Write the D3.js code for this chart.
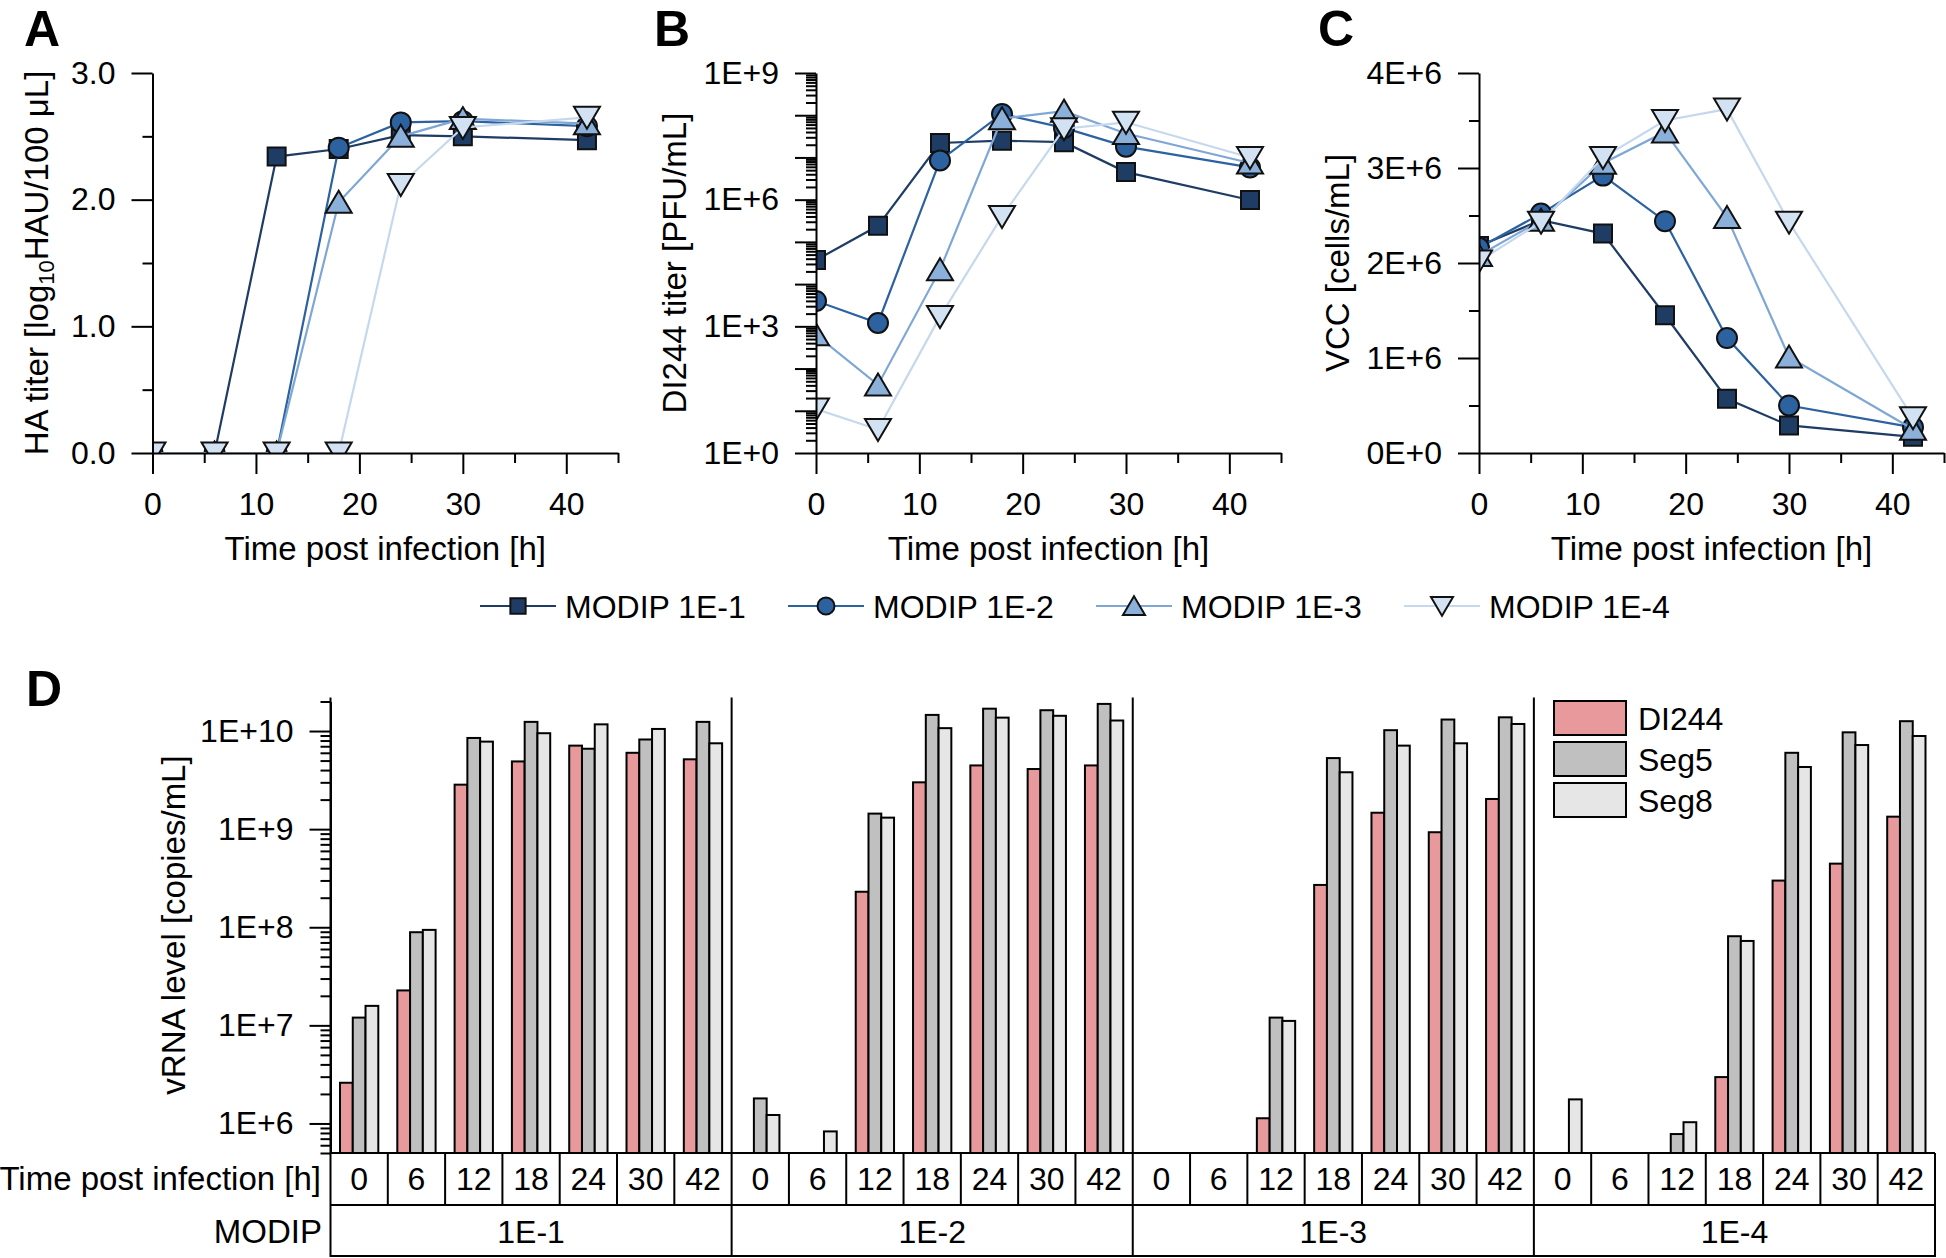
<!DOCTYPE html>
<html><head><meta charset="utf-8">
<script src="https://cdn.jsdelivr.net/npm/d3@7"></script>
<style>
body{margin:0;background:#fff}
svg{display:block}
text{font-family:"Liberation Sans",Arial,Helvetica,sans-serif;fill:#000}
</style>
</head><body>
<svg id="c" width="1946" height="1258"></svg>
<script>
// ---------------- DATA ----------------
const times = [0, 6, 12, 18, 24, 30, 42];
const seriesLabels = ["MODIP 1E-1", "MODIP 1E-2", "MODIP 1E-3", "MODIP 1E-4"];

// Panel A: HA titer [log10 HAU/100 µL]
const haTiter1E1 = [0, 0, 2.34, 2.40, 2.51, 2.50, 2.47];
const haTiter1E2 = [0, 0, 0, 2.41, 2.61, 2.62, 2.58];
const haTiter1E3 = [0, 0, 0, 1.98, 2.50, 2.64, 2.60];
const haTiter1E4 = [0, 0, 0, 0, 2.12, 2.57, 2.65];

// Panel B: DI244 titer [PFU/mL]
const di244Titer1E1 = [3.7e4, 2.4e5, 2.2e7, 2.5e7, 2.3e7, 4.5e6, 9.8e5];
const di244Titer1E2 = [4.0e3, 1.2e3, 8.5e6, 1.07e8, 5.0e7, 1.8e7, 5.8e6];
const di244Titer1E3 = [630, 41, 2.2e4, 8.3e7, 1.25e8, 3.7e7, 7.4e6];
const di244Titer1E4 = [11, 3.6, 1.7e3, 4.0e5, 4.8e7, 6.8e7, 1.0e7];

// Panel C: VCC [cells/mL]
const vcc1E1 = [2.18e6, 2.45e6, 2.31e6, 1.45e6, 0.57e6, 0.29e6, 0.17e6];
const vcc1E2 = [2.16e6, 2.52e6, 2.92e6, 2.44e6, 1.21e6, 0.50e6, 0.27e6];
const vcc1E3 = [2.08e6, 2.45e6, 3.05e6, 3.38e6, 2.48e6, 1.01e6, 0.25e6];
const vcc1E4 = [2.02e6, 2.43e6, 3.11e6, 3.50e6, 3.62e6, 2.43e6, 0.37e6];

// Panel D: vRNA level [copies/mL]
const modipGroups = ["1E-1", "1E-2", "1E-3", "1E-4"];
const rnaSegments = ["DI244", "Seg5", "Seg8"];
const timeLabels = ["0", "6", "12", "18", "24", "30", "42"];
const di244_1E1 = [2.6e6, 2.27e7, 2.84e9, 4.9e9, 7.1e9, 6.0e9, 5.15e9];
const seg5_1E1  = [1.2e7, 8.9e7, 8.5e9, 1.24e10, 6.6e9, 8.2e9, 1.24e10];
const seg8_1E1  = [1.58e7, 9.4e7, 7.8e9, 9.5e9, 1.17e10, 1.05e10, 7.5e9];
const di244_1E2 = [null, null, 2.3e8, 3.0e9, 4.46e9, 4.1e9, 4.46e9];
const seg5_1E2  = [1.8e6, null, 1.44e9, 1.46e10, 1.69e10, 1.63e10, 1.89e10];
const seg8_1E2  = [1.22e6, 8.3e5, 1.31e9, 1.07e10, 1.37e10, 1.43e10, 1.28e10];
const di244_1E3 = [null, null, 1.13e6, 2.7e8, 1.47e9, 9.3e8, 2.03e9];
const seg5_1E3  = [null, null, 1.2e7, 5.3e9, 1.02e10, 1.31e10, 1.38e10];
const seg8_1E3  = [null, null, 1.11e7, 3.8e9, 7.1e9, 7.5e9, 1.18e10];
const di244_1E4 = [null, null, null, 2.97e6, 2.99e8, 4.45e8, 1.34e9];
const seg5_1E4  = [null, null, 7.8e5, 8.1e7, 6.0e9, 9.7e9, 1.26e10];
const seg8_1E4  = [1.76e6, null, 1.03e6, 7.25e7, 4.3e9, 7.2e9, 8.9e9];

// ---------------- STYLE ----------------
const fillColors = ["#1f3c64", "#2d62a0", "#8bb0d9", "#d3e2f3"];
const lineColors = ["#1f3c64", "#2d62a0", "#7ea7d6", "#c5d8ee"];
const shapes = ["square", "circle", "triUp", "triDown"];
const barColors = ["#e8999c", "#c0c0c0", "#e6e6e6"];
const FS = 32, TFS = 33;

const svg = d3.select("#c");

function markerPath(shape) {
  switch (shape) {
    case "square": return "M-9,-9H9V9H-9Z";
    case "circle": return "M10,0A10,10 0 1,1 -10,0A10,10 0 1,1 10,0Z";
    case "triUp": return "M0,-11.5L13,10.5L-13,10.5Z";
    case "triDown": return "M0,11.5L13,-10.5L-13,-10.5Z";
  }
}

function styleAxis(g) {
  g.attr("font-family", null).attr("font-size", null);
  g.selectAll(".domain").attr("stroke", "#000").attr("stroke-width", 2);
  g.selectAll(".tick line").attr("stroke", "#000").attr("stroke-width", 2);
  g.selectAll(".tick text").attr("font-size", FS).attr("fill", "#000");
}

function letter(t, x, y) {
  svg.append("text").attr("x", x).attr("y", y).attr("font-size", 50)
    .attr("font-weight", "bold").text(t);
}

// generic line panel
function linePanel(opts) {
  const { id, x, y, data, majorY, minorY, fmtY, majorYLabelled } = opts;
  const g = svg.append("g");
  const clipId = "clip" + id;
  svg.append("clipPath").attr("id", clipId).append("rect")
    .attr("x", x.range()[0]).attr("y", y.range()[1])
    .attr("width", x.range()[1] - x.range()[0])
    .attr("height", y.range()[0] - y.range()[1]);

  // series
  const plot = g.append("g").attr("clip-path", `url(#${clipId})`);
  data.forEach((vals, i) => {
    const pts = times.map((t, j) => [t, vals[j]]);
    plot.append("path")
      .attr("d", d3.line().x(d => x(d[0])).y(d => y(d[1]))(pts))
      .attr("fill", "none").attr("stroke", lineColors[i]).attr("stroke-width", 2.2);
    plot.selectAll(null).data(pts).enter().append("path")
      .attr("transform", d => `translate(${x(d[0])},${y(d[1])})`)
      .attr("d", markerPath(shapes[i]))
      .attr("fill", fillColors[i]).attr("stroke", "#111").attr("stroke-width", 2);
  });

  // axes
  const y0 = y.range()[0], x0 = x.range()[0];
  g.append("g").attr("transform", `translate(0,${y0})`)
    .call(d3.axisBottom(x).tickValues([5, 15, 25, 35, 45]).tickSize(10).tickFormat(""))
    .call(styleAxis).select(".domain").remove();
  g.append("g").attr("transform", `translate(0,${y0})`)
    .call(d3.axisBottom(x).tickValues([0, 10, 20, 30, 40]).tickSize(21).tickSizeOuter(0).tickPadding(18))
    .call(styleAxis);
  g.append("g").attr("transform", `translate(${x0},0)`)
    .call(d3.axisLeft(y).tickValues(minorY).tickSize(10).tickFormat(""))
    .call(styleAxis).select(".domain").remove();
  g.append("g").attr("transform", `translate(${x0},0)`)
    .call(d3.axisLeft(y).tickValues(majorY).tickSize(21).tickSizeOuter(0).tickPadding(16)
      .tickFormat(d => (majorYLabelled ? majorYLabelled(d) : true) ? fmtY(d) : ""))
    .call(styleAxis);

  // x title
  svg.append("text").attr("x", (x.range()[0] + x.range()[1]) / 2).attr("y", 560)
    .attr("text-anchor", "middle").attr("font-size", TFS).text("Time post infection [h]");
  return g;
}

// ---------------- PANEL A ----------------
const xA = d3.scaleLinear().domain([0, 45]).range([152.5, 618]);
const yA = d3.scaleLinear().domain([0, 3]).range([453, 73]);
linePanel({
  id: "A", x: xA, y: yA,
  data: [haTiter1E1, haTiter1E2, haTiter1E3, haTiter1E4],
  majorY: [0, 1, 2, 3], minorY: [0.5, 1.5, 2.5],
  fmtY: d3.format(".1f")
});
letter("A", 24, 46);
{
  const t = svg.append("text").attr("transform", "translate(48,263) rotate(-90)")
    .attr("text-anchor", "middle").attr("font-size", TFS);
  t.append("tspan").text("HA titer [log");
  t.append("tspan").attr("font-size", 22).attr("dy", 6).text("10");
  t.append("tspan").attr("dy", -6).text("HAU/100 μL]");
}

// ---------------- PANEL B ----------------
const xB = d3.scaleLinear().domain([0, 45]).range([816, 1281]);
const yB = d3.scaleLog().domain([1, 1e9]).range([453, 73]);
const minorB = [];
for (let e = 0; e < 9; e++) for (let k = 2; k <= 9; k++) minorB.push(k * Math.pow(10, e));
linePanel({
  id: "B", x: xB, y: yB,
  data: [di244Titer1E1, di244Titer1E2, di244Titer1E3, di244Titer1E4],
  majorY: d3.range(0, 10).map(e => Math.pow(10, e)), minorY: minorB,
  fmtY: d => "1E+" + Math.round(Math.log10(d)),
  majorYLabelled: d => Math.round(Math.log10(d)) % 3 === 0
});
letter("B", 654, 46);
svg.append("text").attr("transform", "translate(686,263) rotate(-90)")
  .attr("text-anchor", "middle").attr("font-size", TFS).text("DI244 titer [PFU/mL]");

// ---------------- PANEL C ----------------
const xC = d3.scaleLinear().domain([0, 45]).range([1479, 1944]);
const yC = d3.scaleLinear().domain([0, 4e6]).range([453, 73]);
linePanel({
  id: "C", x: xC, y: yC,
  data: [vcc1E1, vcc1E2, vcc1E3, vcc1E4],
  majorY: [0, 1e6, 2e6, 3e6, 4e6], minorY: [0.5e6, 1.5e6, 2.5e6, 3.5e6],
  fmtY: d => (d / 1e6) + "E+" + (d === 0 ? 0 : 6)
});
letter("C", 1318, 46);
svg.append("text").attr("transform", "translate(1349,263) rotate(-90)")
  .attr("text-anchor", "middle").attr("font-size", TFS).text("VCC [cells/mL]");

// ---------------- LEGEND (A–C) ----------------
const legendX = d3.scalePoint().domain(seriesLabels).range([518, 1442]);
seriesLabels.forEach((lab, i) => {
  const cx = legendX(lab), cy = 606;
  svg.append("line").attr("x1", cx - 38).attr("x2", cx + 38).attr("y1", cy).attr("y2", cy)
    .attr("stroke", lineColors[i]).attr("stroke-width", 2.2);
  svg.append("path").attr("transform", `translate(${cx},${cy}) scale(0.85)`).attr("d", markerPath(shapes[i]))
    .attr("fill", fillColors[i]).attr("stroke", "#111").attr("stroke-width", 2.3);
  svg.append("text").attr("x", cx + 47).attr("y", cy + 11.5).attr("font-size", FS).text(lab);
});

// ---------------- PANEL D ----------------
letter("D", 26, 706);
const dTop = 701.5, dBottom = 1153, tableRow = 52;
const yD = d3.scaleLog().domain([5e5, 2e10]).range([dBottom, dTop]);
const xGroup = d3.scaleBand().domain(modipGroups).range([330.5, 1935]);
const xTime = d3.scaleBand().domain(timeLabels).range([0, xGroup.bandwidth()]);
const xSeg = d3.scaleBand().domain(rnaSegments).range([9.5, xTime.bandwidth() - 9.5]);

const barData = {
  "1E-1": [di244_1E1, seg5_1E1, seg8_1E1],
  "1E-2": [di244_1E2, seg5_1E2, seg8_1E2],
  "1E-3": [di244_1E3, seg5_1E3, seg8_1E3],
  "1E-4": [di244_1E4, seg5_1E4, seg8_1E4]
};
const bars = [];
modipGroups.forEach(gname => {
  barData[gname].forEach((arr, si) => {
    arr.forEach((v, ti) => {
      if (v != null) bars.push({ g: gname, s: rnaSegments[si], si, t: timeLabels[ti], v });
    });
  });
});
svg.append("g").selectAll("rect").data(bars).enter().append("rect")
  .attr("x", d => xGroup(d.g) + xTime(d.t) + xSeg(d.s))
  .attr("width", xSeg.bandwidth())
  .attr("y", d => yD(d.v))
  .attr("height", d => dBottom - yD(d.v))
  .attr("fill", d => barColors[d.si]).attr("stroke", "#000").attr("stroke-width", 2);

// y axis D
const minorD = [];
for (let e = 5; e <= 10; e++) for (let k = 2; k <= 9; k++) {
  const v = k * Math.pow(10, e);
  if (v >= 5e5 && v <= 2e10) minorD.push(v);
}
svg.append("g").attr("transform", "translate(330.5,0)")
  .call(d3.axisLeft(yD).tickValues(minorD).tickSize(10).tickFormat(""))
  .call(styleAxis).select(".domain").remove();
svg.append("g").attr("transform", "translate(330.5,0)")
  .call(d3.axisLeft(yD).tickValues([1e6, 1e7, 1e8, 1e9, 1e10]).tickSize(21).tickSizeOuter(0).tickPadding(16)
    .tickFormat(d => "1E+" + Math.round(Math.log10(d))))
  .call(styleAxis);
svg.append("text").attr("transform", "translate(185,925) rotate(-90)")
  .attr("text-anchor", "middle").attr("font-size", TFS).text("vRNA level [copies/mL]");

// table + separators
const tbl = svg.append("g").attr("stroke", "#000").attr("stroke-width", 2);
const xL = xGroup.range()[0], xR = xGroup.range()[1];
[dBottom, dBottom + tableRow, dBottom + 2 * tableRow - 1].forEach(yy =>
  tbl.append("line").attr("x1", xL).attr("x2", xR).attr("y1", yy).attr("y2", yy));
modipGroups.forEach(gname => {
  const gx = xGroup(gname);
  tbl.append("line").attr("x1", gx).attr("x2", gx).attr("y1", dTop - 4).attr("y2", dBottom + 2 * tableRow);
  timeLabels.forEach((t, i) => {
    if (i > 0) {
      const tx = gx + xTime(t);
      tbl.append("line").attr("x1", tx).attr("x2", tx).attr("y1", dBottom).attr("y2", dBottom + tableRow);
    }
    svg.append("text").attr("x", gx + xTime(t) + xTime.bandwidth() / 2).attr("y", 1189.5)
      .attr("text-anchor", "middle").attr("font-size", FS).text(t);
  });
  svg.append("text").attr("x", gx + xGroup.bandwidth() / 2).attr("y", 1243)
    .attr("text-anchor", "middle").attr("font-size", FS).text(gname);
});
tbl.append("line").attr("x1", xR).attr("x2", xR).attr("y1", dBottom).attr("y2", dBottom + 2 * tableRow);
svg.append("text").attr("x", 321).attr("y", 1189.5).attr("text-anchor", "end")
  .attr("font-size", TFS).text("Time post infection [h]");
svg.append("text").attr("x", 322).attr("y", 1243).attr("text-anchor", "end")
  .attr("font-size", TFS).text("MODIP");

// legend D
const legD = d3.scaleBand().domain(rnaSegments).range([700, 823]);
rnaSegments.forEach((s, i) => {
  const y0 = legD(s);
  svg.append("rect").attr("x", 1554).attr("y", y0 + 1).attr("width", 72).attr("height", 34)
    .attr("fill", barColors[i]).attr("stroke", "#000").attr("stroke-width", 2);
  svg.append("text").attr("x", 1638).attr("y", y0 + 18 + 11.5).attr("font-size", FS).text(s);
});
</script>
</body></html>
